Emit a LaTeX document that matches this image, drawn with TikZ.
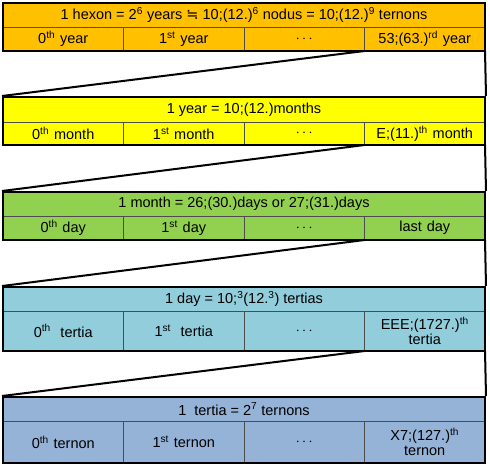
\documentclass[tikz,border=0pt]{standalone}
\usepackage{fontspec}
\setmainfont{Liberation Sans}
\newfontfamily\symfont{DejaVu Sans}
\definecolor{HexonOrange}{RGB}{255,192,0}
\definecolor{YearYellow}{RGB}{255,255,0}
\definecolor{MonthGreen}{RGB}{146,208,80}
\definecolor{DayBlue}{RGB}{146,205,220}
\definecolor{TertiaBlue}{RGB}{149,179,215}
\usetikzlibrary{positioning, fit}
\tikzset{
  headbox/.style={draw=black!70, line width=0.6pt, minimum width=482pt, minimum height=24pt,
    inner sep=0pt, outer sep=0pt, anchor=north west, font=\fontsize{14.5}{15.5}\selectfont},
  cellbox/.style={draw=black!70, line width=0.6pt, minimum width=120.5pt, minimum height=24pt,
    inner sep=0pt, outer sep=0pt, text width=118pt, align=center, font=\fontsize{14.5}{15.5}\selectfont},
  framebox/.style={draw=black, line width=2pt, inner sep=0pt},
  zoomline/.style={draw=black, line width=2pt},
}
\newcommand{\ord}[1]{\textsuperscript{#1}}

\begin{document}
\begin{tikzpicture}[x=1pt, y=-1pt]
\useasboundingbox (0,0) rectangle (490,466);

% hexon
\node[headbox, fill=HexonOrange] (hexon) at (3,3)
  {1 hexon = 2\ord{6} years {\symfont ≒} 10;(12.)\ord{6} nodus = 10;(12.)\ord{9} ternons};
\node[cellbox, fill=HexonOrange, below=0pt of hexon.south west, anchor=north west] (year0) {0\ord{th} year};
\node[cellbox, fill=HexonOrange, right=0pt of year0] (year1) {1\ord{st} year};
\node[cellbox, fill=HexonOrange, right=0pt of year1] (yeardots) {$\cdots$};
\node[cellbox, fill=HexonOrange, right=0pt of yeardots] (yearlast) {53;(63.)\ord{rd} year};
\node[framebox, fit=(hexon)(yearlast)] (hexonframe) {};

% year
\node[headbox, fill=YearYellow, minimum height=25pt] (year) at (3,97) {1 year = 10;(12.)months};
\node[cellbox, fill=YearYellow, minimum height=23pt, below=0pt of year.south west, anchor=north west] (month0) {0\ord{th} month};
\node[cellbox, fill=YearYellow, minimum height=23pt, right=0pt of month0] (month1) {1\ord{st} month};
\node[cellbox, fill=YearYellow, minimum height=23pt, right=0pt of month1] (monthdots) {$\cdots$};
\node[cellbox, fill=YearYellow, minimum height=23pt, right=0pt of monthdots] (monthlast) {E;(11.)\ord{th} month};
\node[framebox, fit=(year)(monthlast)] (yearframe) {};

% month
\node[headbox, fill=MonthGreen] (month) at (3,192) {1 month = 26;(30.)days or 27;(31.)days};
\node[cellbox, fill=MonthGreen, below=0pt of month.south west, anchor=north west] (day0) {0\ord{th} day};
\node[cellbox, fill=MonthGreen, right=0pt of day0] (day1) {1\ord{st} day};
\node[cellbox, fill=MonthGreen, right=0pt of day1] (daydots) {$\cdots$};
\node[cellbox, fill=MonthGreen, right=0pt of daydots] (daylast) {last day};
\node[framebox, fit=(month)(daylast)] (monthframe) {};

% day
\node[headbox, fill=DayBlue] (day) at (3,287) {1 day = 10;\ord{3}(12.\ord{3}) tertias};
\node[cellbox, fill=DayBlue, minimum height=40pt, below=0pt of day.south west, anchor=north west] (tertia0) {0\ord{th}~~tertia};
\node[cellbox, fill=DayBlue, minimum height=40pt, right=0pt of tertia0] (tertia1) {1\ord{st}~~tertia};
\node[cellbox, fill=DayBlue, minimum height=40pt, right=0pt of tertia1] (tertiadots) {$\cdots$};
\node[cellbox, fill=DayBlue, minimum height=40pt, right=0pt of tertiadots] (tertialast) {EEE;(1727.)\ord{th}\\tertia};
\node[framebox, fit=(day)(tertialast)] (dayframe) {};

% tertia
\node[headbox, fill=TertiaBlue] (tertia) at (3,397) {1~~tertia = 2\ord{7} ternons};
\node[cellbox, fill=TertiaBlue, minimum height=42pt, below=0pt of tertia.south west, anchor=north west] (ternon0) {0\ord{th} ternon};
\node[cellbox, fill=TertiaBlue, minimum height=42pt, right=0pt of ternon0] (ternon1) {1\ord{st} ternon};
\node[cellbox, fill=TertiaBlue, minimum height=42pt, right=0pt of ternon1] (ternondots) {$\cdots$};
\node[cellbox, fill=TertiaBlue, minimum height=42pt, right=0pt of ternondots] (ternonlast) {X7;(127.)\ord{th}\\ternon};
\node[framebox, fit=(tertia)(ternonlast)] (tertiaframe) {};

% zoom lines
\draw[zoomline] (yearlast.south west) -- (yearframe.north west);
\draw[zoomline] (yearlast.south east) -- (yearframe.north east);
\draw[zoomline] (monthlast.south west) -- (monthframe.north west);
\draw[zoomline] (monthlast.south east) -- (monthframe.north east);
\draw[zoomline] (daylast.south west) -- (dayframe.north west);
\draw[zoomline] (daylast.south east) -- (dayframe.north east);
\draw[zoomline] (tertialast.south west) -- (tertiaframe.north west);
\draw[zoomline] (tertialast.south east) -- (tertiaframe.north east);
\end{tikzpicture}
\end{document}
